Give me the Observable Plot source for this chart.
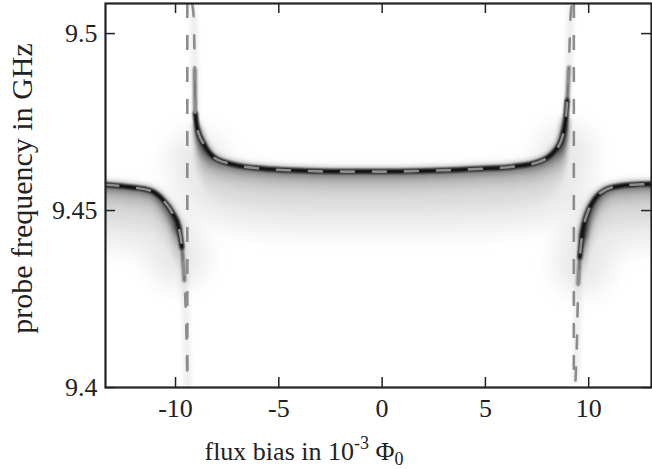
<!DOCTYPE html>
<html><head><meta charset="utf-8">
<script src="https://cdn.jsdelivr.net/npm/d3@7"></script>
<script src="https://cdn.jsdelivr.net/npm/@observablehq/plot@0.6"></script>
<style>html,body{margin:0;padding:0;background:#fff}</style>
</head><body><div id="chart"></div>
<script>
// ---- data ----
const xTicks = [-10, -5, 0, 5, 10];
const yTicks = [9.4, 9.45, 9.5];
const xDomain = [-13.39, 13.04];
const fDomain = [9.4, 9.5085];

// lower-left branch
const leftX = [-13.4, -12.19, -11.22, -10.58, -10.17, -9.85, -9.69, -9.57, -9.48, -9.42];
const leftF = [9.4573, 9.4566, 9.4556, 9.4528, 9.4495, 9.4453, 9.4396, 9.4302, 9.4170, 9.4000];
const leftA = [1, 1, 1, 1, 1, 0.9, 0.6, 0.25, 0.12, 0.08];

// upper middle branch
const upperX = [-9.20, -9.12, -9.07, -9.04, -8.96, -8.64, -8.16, -7.35, -5.73, -4.12, -2.0, 0, 2.0, 4.76, 6.36, 7.51, 8.31, 8.72, 8.88, 8.96, 9.04, 9.12, 9.18];
const upperF = [9.5085, 9.5046, 9.4900, 9.4774, 9.4735, 9.4688, 9.4651, 9.4632, 9.4618, 9.4613, 9.4610, 9.4610, 9.4612, 9.4618, 9.4624, 9.4636, 9.4665, 9.4707, 9.4754, 9.4811, 9.4905, 9.5046, 9.5085];
const upperA = [0.05, 0.08, 0.2, 0.6, 1, 1, 1, 1, 1, 1, 1, 1, 1, 1, 1, 1, 1, 1, 0.9, 0.6, 0.2, 0.08, 0.05];

// lower-right branch
const rightX = [9.36, 9.44, 9.49, 9.57, 9.69, 9.93, 10.25, 10.90, 11.70, 12.50, 13.10];
const rightF = [9.4020, 9.4152, 9.4293, 9.4368, 9.4434, 9.4491, 9.4528, 9.4561, 9.4571, 9.4574, 9.4575];
const rightA = [0.08, 0.15, 0.3, 0.6, 0.9, 1, 1, 1, 1, 1, 1];

// near-vertical (qubit) lines of the model
const qubitX = [-9.43, 9.28];

const yLabel = "probe frequency in GHz";

// ---- table built from the arrays ----
const branches = [
  ["left", leftX, leftF, leftA],
  ["upper", upperX, upperF, upperA],
  ["right", rightX, rightF, rightA]
];
const rows = branches.flatMap(([name, X, F, A]) => X.map((x, i) => ({branch: name, x, f: F[i], a: A[i]})));
const strong = rows.filter(d => d.a >= 0.9);
const medium = rows.filter(d => d.a >= 0.2);
const dark = rows.filter(d => d.a >= 0.55);

const common = {x: "x", y: "f", z: "branch", curve: "monotone-x", clip: true};

const glowLayers = d3.range(1, 15).map(k =>
  Plot.line(strong, {...common, dy: 3 * k, stroke: "#000", strokeWidth: 6,
    strokeOpacity: 0.32 * Math.exp(-k / 4), ariaDescription: "glow"}));

const plot = Plot.plot({
  width: 652, height: 469,
  marginLeft: 105, marginRight: 1, marginTop: 3, marginBottom: 82,
  style: {fontFamily: '"Liberation Serif", serif', fontSize: "26px", color: "#222", background: "#fff"},
  x: {domain: xDomain},
  y: {domain: fDomain},
  marks: [
    Plot.line(rows, {...common, stroke: "#000", strokeWidth: 7, strokeOpacity: 0.07, ariaDescription: "glow"}),
    Plot.line(strong, {...common, dy: 32, stroke: "#000", strokeWidth: 55, strokeOpacity: 0.09, ariaDescription: "haze"}),
    ...glowLayers,
    Plot.line(strong, {...common, stroke: "#000", strokeWidth: 10, strokeOpacity: 0.2, ariaDescription: "glow"}),
    Plot.line(medium, {...common, stroke: "#666", strokeWidth: 3.5, ariaDescription: "core"}),
    Plot.line(dark, {...common, stroke: "#111", strokeWidth: 4.5, ariaDescription: "core"}),
    Plot.line(rows, {...common, stroke: "#8c8c8c", strokeWidth: 2.6, strokeDasharray: "13,19"}),
    Plot.ruleX(qubitX, {x: d => d, stroke: "#8c8c8c", strokeWidth: 2.6, strokeDasharray: "15,17", clip: true}),
    Plot.tickX(xTicks, {x: d => d, insetTop: 374, stroke: "#222", strokeWidth: 1.5}),
    Plot.tickX(xTicks, {x: d => d, insetBottom: 374, stroke: "#222", strokeWidth: 1.5}),
    Plot.tickY(yTicks, {y: d => d, insetRight: 536, stroke: "#222", strokeWidth: 1.5}),
    Plot.tickY(yTicks, {y: d => d, insetLeft: 536, stroke: "#222", strokeWidth: 1.5}),
    Plot.frame({stroke: "#222", strokeWidth: 2.2}),
    Plot.axisX({ticks: xTicks, tickSize: 0, tickPadding: 11, tickFormat: d => String(d), label: null, fontSize: 26}),
    Plot.axisY({ticks: yTicks, tickSize: 0, tickPadding: 8, tickFormat: d => String(d), label: null, fontSize: 26}),
    Plot.text([yLabel], {text: d => d, frameAnchor: "left", textAnchor: "middle", dx: -83, dy: -7, rotate: -90, fontSize: 30})
  ]
});

// blur filters for the measured-signal layers
const svg = d3.select(plot);
const defs = svg.insert("defs", ":first-child");
[["b1", 0.8], ["b2", 2.2], ["b3", 12]].forEach(([id, s]) => {
  defs.append("filter").attr("id", id).attr("filterUnits", "userSpaceOnUse")
    .attr("x", 0).attr("y", 0).attr("width", 652).attr("height", 469)
    .append("feGaussianBlur").attr("stdDeviation", s);
});
svg.selectAll('g[aria-description="glow"]').attr("filter", "url(#b2)");
svg.selectAll('g[aria-description="haze"]').attr("filter", "url(#b3)");
svg.selectAll('g[aria-description="core"]').attr("filter", "url(#b1)");

// x-axis label with super- and subscript
const xl = svg.append("text").attr("x", 304).attr("y", 460).attr("text-anchor", "middle")
  .attr("font-family", '"Liberation Serif", serif').attr("font-size", 26).attr("fill", "#222");
xl.append("tspan").text("flux bias in 10");
xl.append("tspan").attr("dy", -11).attr("font-size", 18).text("-3");
xl.append("tspan").attr("dy", 11).text(" Φ");
xl.append("tspan").attr("dy", 5).attr("font-size", 18).text("0");

document.getElementById("chart").append(plot);
</script>
</body></html>
